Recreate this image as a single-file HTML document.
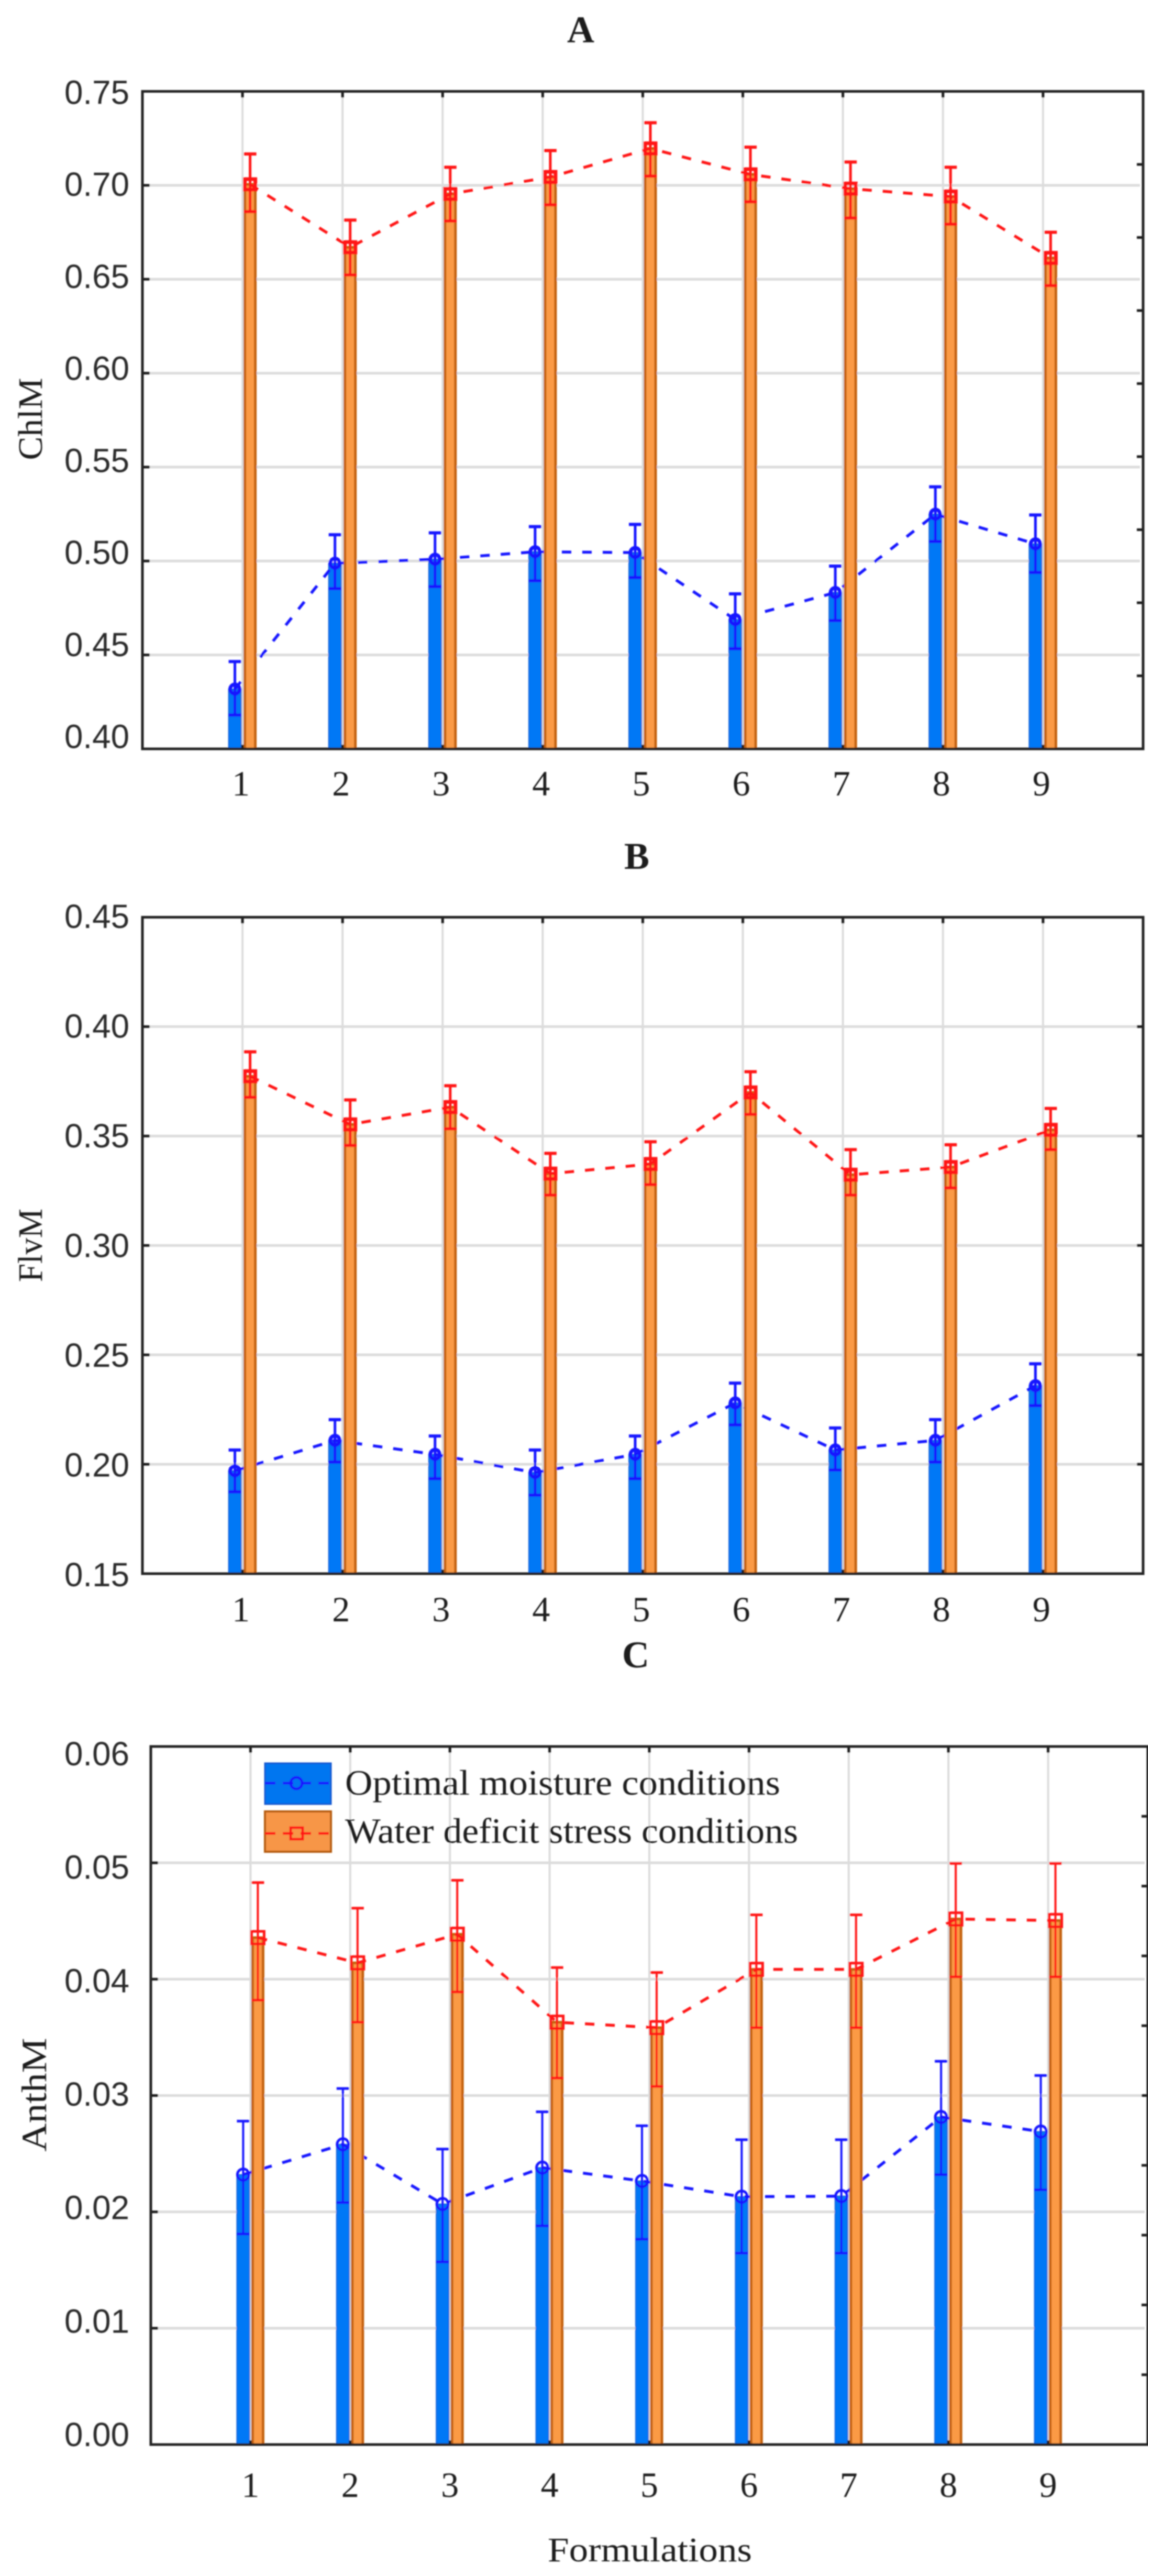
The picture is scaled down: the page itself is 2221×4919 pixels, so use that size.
<!DOCTYPE html>
<html lang="en">
<head>
<meta charset="utf-8">
<title>Pigment indices by formulation</title>
<style>
html,body{margin:0;padding:0;background:#fff;}
svg{display:block;}
.tick-y{font-family:"Liberation Sans",sans-serif;font-size:64px;fill:#2c2c2c;text-anchor:end;}
.serif{font-family:"Liberation Serif",serif;fill:#1c1c1c;}
.tick-x{font-family:"Liberation Serif",serif;font-size:68px;fill:#1c1c1c;text-anchor:middle;}
</style>
</head>
<body>
<svg id="figure" xmlns="http://www.w3.org/2000/svg" width="2221" height="4919" viewBox="0 0 2221 4919">
  <defs><filter id="soft" x="0" y="0" width="100%" height="100%"><feGaussianBlur stdDeviation="1.3"/></filter></defs>
  <rect x="0" y="0" width="2221" height="4919" fill="#ffffff"/>
  <g filter="url(#soft)">
    <g id="panel-a">
      <text class="serif" x="1109" y="81" font-size="72" font-weight="bold" text-anchor="middle">A</text>
      <text class="serif" transform="translate(80,800) rotate(-90)" font-size="66" text-anchor="middle" textLength="157" lengthAdjust="spacingAndGlyphs">ChlM</text>
    </g>
    <g id="panel-b">
      <text class="serif" x="1216" y="1659" font-size="72" font-weight="bold" text-anchor="middle">B</text>
      <text class="serif" transform="translate(80,2378) rotate(-90)" font-size="66" text-anchor="middle" textLength="140" lengthAdjust="spacingAndGlyphs">FlvM</text>
    </g>
    <g id="panel-c">
      <text class="serif" x="1214" y="3184" font-size="72" font-weight="bold" text-anchor="middle">C</text>
      <text class="serif" transform="translate(88,4000) rotate(-90)" font-size="68" text-anchor="middle" textLength="217" lengthAdjust="spacingAndGlyphs">AnthM</text>
      <text class="serif" x="1241" y="4891" font-size="66" text-anchor="middle" textLength="390" lengthAdjust="spacingAndGlyphs">Formulations</text>
    </g>
    <g id="legend">
      <g>
        <rect x="506" y="3367" width="126" height="78" fill="#0076f0" stroke="#1458d0" stroke-width="3"/>
        <line x1="506" y1="3405" x2="632" y2="3405" stroke="#1414ff" stroke-width="5" stroke-dasharray="20 14"/>
        <circle cx="566" cy="3405" r="11" fill="none" stroke="#1414ff" stroke-width="5"/>
        <text class="serif" x="659" y="3427" font-size="68" textLength="831" lengthAdjust="spacingAndGlyphs">Optimal moisture conditions</text>
      </g>
      <g>
        <rect x="506" y="3459" width="126" height="77" fill="#f79646" stroke="#b55c0c" stroke-width="4"/>
        <line x1="506" y1="3501" x2="632" y2="3501" stroke="#ff1414" stroke-width="5" stroke-dasharray="20 14"/>
        <rect x="555" y="3490" width="23" height="22" fill="none" stroke="#ff1414" stroke-width="5"/>
        <text class="serif" x="659" y="3519" font-size="68" textLength="865" lengthAdjust="spacingAndGlyphs">Water deficit stress conditions</text>
      </g>
    </g>
  </g>
</svg>
<script>
const categories = [1, 2, 3, 4, 5, 6, 7, 8, 9];

const chlTickLabels = ['0.40', '0.45', '0.50', '0.55', '0.60', '0.65', '0.70', '0.75'];
const chlOptimal = [0.4318, 0.4988, 0.5009, 0.5049, 0.5045, 0.4688, 0.4832, 0.5249, 0.5091];
const chlOptimalUpper = [0.4465, 0.5140, 0.5150, 0.5183, 0.5195, 0.4825, 0.4973, 0.5395, 0.5245];
const chlOptimalLower = [0.4180, 0.4853, 0.4864, 0.4895, 0.4912, 0.4533, 0.4683, 0.5104, 0.4939];
const chlStress = [0.7005, 0.6670, 0.6954, 0.7044, 0.7196, 0.7058, 0.6982, 0.6940, 0.6613];
const chlStressUpper = [0.7167, 0.6815, 0.7096, 0.7185, 0.7333, 0.7203, 0.7124, 0.7096, 0.6750];
const chlStressLower = [0.6860, 0.6523, 0.6810, 0.6896, 0.7049, 0.6912, 0.6826, 0.6793, 0.6466];

const flvTickLabels = ['0.15', '0.20', '0.25', '0.30', '0.35', '0.40', '0.45'];
const flvOptimal = [0.1970, 0.2109, 0.2045, 0.1962, 0.2045, 0.2280, 0.2065, 0.2109, 0.2359];
const flvOptimalUpper = [0.2065, 0.2204, 0.2129, 0.2065, 0.2129, 0.2371, 0.2166, 0.2204, 0.2459];
const flvOptimalLower = [0.1874, 0.2010, 0.1934, 0.1859, 0.1934, 0.2180, 0.1974, 0.2010, 0.2268];
const flvStress = [0.3773, 0.3553, 0.3632, 0.3328, 0.3372, 0.3699, 0.3323, 0.3358, 0.3528];
const flvStressUpper = [0.3885, 0.3665, 0.3730, 0.3421, 0.3474, 0.3794, 0.3438, 0.3460, 0.3626];
const flvStressLower = [0.3677, 0.3457, 0.3533, 0.3230, 0.3278, 0.3599, 0.3230, 0.3263, 0.3438];

const anthTickLabels = ['0.00', '0.01', '0.02', '0.03', '0.04', '0.05', '0.06'];
const anthOptimal = [0.0232, 0.0258, 0.02067, 0.0238, 0.02265, 0.0213, 0.02135, 0.02815, 0.0269];
const anthOptimalUpper = [0.0278, 0.0306, 0.0254, 0.0286, 0.0274, 0.0262, 0.0262, 0.03294, 0.03172];
const anthOptimalLower = [0.0181, 0.0208, 0.0157, 0.0188, 0.01765, 0.01645, 0.01645, 0.0232, 0.0219];
const anthStress = [0.04357, 0.0414, 0.04386, 0.0363, 0.03583, 0.04084, 0.04084, 0.04517, 0.04504];
const anthStressUpper = [0.0483, 0.0461, 0.0485, 0.0410, 0.04057, 0.04553, 0.04553, 0.04995, 0.04995];
const anthStressLower = [0.0382, 0.0363, 0.0389, 0.0315, 0.03078, 0.03583, 0.03583, 0.0402, 0.0402];

const SVG_NS = 'http://www.w3.org/2000/svg';

function make(parent, tag, attrs) {
  const el = document.createElementNS(SVG_NS, tag);
  for (const key in attrs) {
    el.setAttribute(key, attrs[key]);
  }
  parent.appendChild(el);
  return el;
}

function polyPoints(values, xs, y) {
  return values.map(function (v, i) { return xs[i] + ',' + y(v); }).join(' ');
}

function drawSeries(g, prefix, spec, xScale, yScale, baseY, values, upper, lower, offset, isStress) {
  const color = isStress ? '#ff1616' : '#1212ff';
  const xs = categories.map(function (c) { return xScale(c) + offset; });

  categories.forEach(function (c, i) {
    const barTop = yScale(values[i]);
    const bar = make(g, 'rect', {
      x: xs[i] - 12 + (isStress ? 2 : 0),
      y: barTop,
      width: isStress ? 20 : 24,
      height: baseY - barTop,
      fill: isStress ? '#fb9a45' : '#0078f6',
      stroke: isStress ? '#c4620f' : '#1a66da',
      'stroke-width': isStress ? 5 : 2
    });
    
    
  });

  const line = make(g, 'polyline', {
    points: polyPoints(values, xs, yScale),
    fill: 'none',
    stroke: color,
    'stroke-width': 5.5,
    'stroke-dasharray': '18 21'
  });
  
  

  categories.forEach(function (c, i) {
    const yUp = yScale(upper[i]);
    const yLo = yScale(lower[i]);
    const stem = make(g, 'line', {
      x1: xs[i], x2: xs[i], y1: yUp, y2: yLo,
      stroke: color, 'stroke-width': spec.errWidth
    });
    
    

    const capUp = make(g, 'line', {
      x1: xs[i] - 12, x2: xs[i] + 12, y1: yUp, y2: yUp,
      stroke: color, 'stroke-width': spec.errWidth + 1
    });
    
    

    const capLo = make(g, 'line', {
      x1: xs[i] - 12, x2: xs[i] + 12, y1: yLo, y2: yLo,
      stroke: color, 'stroke-width': spec.errWidth + 1
    });
    
    

    const my = yScale(values[i]);
    let marker;
    if (isStress) {
      marker = make(g, 'rect', {
        x: xs[i] - spec.markerSize / 2,
        y: my - spec.markerSize / 2,
        width: spec.markerSize,
        height: spec.markerSize,
        fill: 'none',
        stroke: color,
        'stroke-width': spec.markerStroke
      });
    } else {
      marker = make(g, 'circle', {
        cx: xs[i],
        cy: my,
        r: spec.markerSize / 2 - 1,
        fill: 'none',
        stroke: color,
        'stroke-width': spec.markerStroke
      });
    }
    
    
  });
}

function drawPanel(spec) {
  const g = document.getElementById(spec.id);
  const labels = spec.tickLabels;
  const yMin = Number(labels[0]);
  const yMax = Number(labels[labels.length - 1]);
  const xScale = function (c) {
    return spec.left + c / (categories.length + 1) * (spec.right - spec.left);
  };
  const yScale = function (v) {
    return spec.bottom - (v - yMin) / (yMax - yMin) * (spec.bottom - spec.top);
  };

  labels.forEach(function (label, k) {
    const v = Number(label);
    const y = yScale(v);
    if (k > 0 && k < labels.length - 1) {
      const grid = make(g, 'line', {
        x1: spec.left + 14, x2: spec.right - 6, y1: y, y2: y,
        stroke: '#dcdcdc', 'stroke-width': 5
      });
      
      
    }
    const labelY = spec.labelBottom + (spec.labelTop - spec.labelBottom) * k / (labels.length - 1);
    const text = make(g, 'text', { x: spec.labelX, y: labelY + 24, class: 'tick-y', textLength: 124, lengthAdjust: 'spacingAndGlyphs' });
    text.textContent = label;
    
    

    const tick = make(g, 'line', {
      x1: spec.left, x2: spec.left + 14, y1: y, y2: y,
      stroke: '#1a1a1a', 'stroke-width': 5
    });
    
    
  });

  categories.forEach(function (c) {
    const x = xScale(c);
    const grid = make(g, 'line', {
      x1: x, x2: x, y1: spec.top, y2: spec.bottom,
      stroke: '#dcdcdc', 'stroke-width': 4
    });
    
    

    const text = make(g, 'text', { x: x + spec.catLabelShift, y: spec.catLabelY, class: 'tick-x' });
    text.textContent = String(c);
    
    
  });

  drawSeries(g, 'optimal', spec, xScale, yScale, spec.bottom, spec.optimal, spec.optimalUpper, spec.optimalLower, -spec.barOffset, false);
  drawSeries(g, 'stress', spec, xScale, yScale, spec.bottom, spec.stress, spec.stressUpper, spec.stressLower, spec.barOffset, true);

  categories.forEach(function (c) {
    const x = xScale(c);
    const topTick = make(g, 'line', {
      x1: x, x2: x, y1: spec.top, y2: spec.top + 12,
      stroke: '#1a1a1a', 'stroke-width': 5
    });
    
    

    const bottomTick = make(g, 'line', {
      x1: x, x2: x, y1: spec.bottom - 8, y2: spec.bottom,
      stroke: '#1a1a1a', 'stroke-width': 5
    });
    
    
  });

  for (let k = 1; k < spec.rightTicks; k++) {
    const y = spec.top + k * (spec.bottom - spec.top) / spec.rightTicks;
    const tick = make(g, 'line', {
      x1: spec.right - 12, x2: spec.right, y1: y, y2: y,
      stroke: '#1a1a1a', 'stroke-width': 5
    });
    
    
  }

  const frame = make(g, 'rect', {
    x: spec.left, y: spec.top,
    width: spec.right - spec.left,
    height: spec.bottom - spec.top,
    fill: 'none', stroke: '#222222', 'stroke-width': 5
  });
  
  
}

drawPanel({
  id: 'panel-a', left: 272, right: 2183, top: 174.5, bottom: 1430,
  labelX: 247, labelTop: 174.5, labelBottom: 1404.6, rightTicks: 9,
  catLabelY: 1519, catLabelShift: -3, barOffset: 14.5,
  errWidth: 5, markerSize: 20, markerStroke: 7,
  tickLabels: chlTickLabels,
  optimal: chlOptimal, optimalUpper: chlOptimalUpper, optimalLower: chlOptimalLower,
  stress: chlStress, stressUpper: chlStressUpper, stressLower: chlStressLower
});

drawPanel({
  id: 'panel-b', left: 272, right: 2183, top: 1751.5, bottom: 3005,
  labelX: 247, labelTop: 1748, labelBottom: 3005, rightTicks: 6,
  catLabelY: 3096, catLabelShift: -3, barOffset: 14.5,
  errWidth: 5, markerSize: 20, markerStroke: 7,
  tickLabels: flvTickLabels,
  optimal: flvOptimal, optimalUpper: flvOptimalUpper, optimalLower: flvOptimalLower,
  stress: flvStress, stressUpper: flvStressUpper, stressLower: flvStressLower
});

drawPanel({
  id: 'panel-c', left: 288, right: 2192, top: 3335, bottom: 4668,
  labelX: 247, labelTop: 3347, labelBottom: 4647, rightTicks: 10,
  catLabelY: 4768, catLabelShift: 0, barOffset: 14,
  errWidth: 4, markerSize: 24, markerStroke: 5,
  tickLabels: anthTickLabels,
  optimal: anthOptimal, optimalUpper: anthOptimalUpper, optimalLower: anthOptimalLower,
  stress: anthStress, stressUpper: anthStressUpper, stressLower: anthStressLower
});

const panelC = document.getElementById('panel-c');
const legend = document.getElementById('legend');
panelC.parentNode.appendChild(legend);
</script>
</body>
</html>
